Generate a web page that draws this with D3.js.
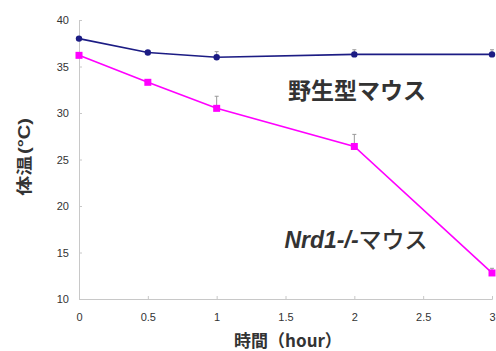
<!DOCTYPE html>
<html><head><meta charset="utf-8">
<script src="https://cdn.jsdelivr.net/npm/d3@7"></script>
<style>body{margin:0;background:#fff}svg{display:block}</style>
</head><body>
<svg id="c" width="496" height="351"></svg>
<script>
const hours = [0, 0.5, 1, 2, 3];
const wtValues = [38.0, 36.5, 36.0, 36.3, 36.3];
const wtErrors = [0.2, 0.2, 0.6, 0.5, 0.5];
const koValues = [36.2, 33.3, 30.5, 26.4, 12.8];
const koErrors = [0.2, 0.2, 1.3, 1.3, 0.5];
const xTicks = [0, 0.5, 1, 1.5, 2, 2.5, 3];
const yTicks = [10, 15, 20, 25, 30, 35, 40];

const svg = d3.select("#c");
const x = d3.scaleLinear().domain([0, 3]).range([79, 492]);
const y = d3.scaleLinear().domain([10, 40]).range([299, 20]);
const font = "Liberation Sans, Arial, sans-serif";
const axisCol = "#c8c8c8";

const xAxis = svg.append("g").attr("transform", "translate(0,299)")
  .call(d3.axisBottom(x).tickValues(xTicks).tickSize(-3).tickPadding(14).tickFormat(d3.format("")));
const yAxis = svg.append("g").attr("transform", "translate(79,0)")
  .call(d3.axisLeft(y).tickValues(yTicks).tickSize(-3).tickPadding(10));
[xAxis, yAxis].forEach(a => {
  a.select(".domain").attr("stroke", axisCol);
  a.selectAll(".tick line").attr("stroke", axisCol);
  a.selectAll("text").attr("fill", "#333").style("font-family", font).style("font-size", "11px");
});

function series(vals, errs, color, marker) {
  const g = svg.append("g");
  g.selectAll("line.err").data(hours).enter().append("line")
    .attr("x1", d => x(d)).attr("x2", d => x(d))
    .attr("y1", (d, i) => y(vals[i])).attr("y2", (d, i) => y(vals[i] + errs[i]))
    .attr("stroke", "#999").attr("stroke-width", 1);
  g.selectAll("line.cap").data(hours).enter().append("line")
    .attr("x1", d => x(d) - 2).attr("x2", d => x(d) + 2)
    .attr("y1", (d, i) => y(vals[i] + errs[i])).attr("y2", (d, i) => y(vals[i] + errs[i]))
    .attr("stroke", "#999").attr("stroke-width", 1);
  const line = d3.line().x(d => x(d)).y((d, i) => y(vals[i]));
  g.append("path").datum(hours).attr("d", line).attr("fill", "none")
    .attr("stroke", color).attr("stroke-width", 1.6);
  if (marker === "circle") {
    g.selectAll("circle").data(hours).enter().append("circle")
      .attr("cx", d => x(d)).attr("cy", (d, i) => y(vals[i])).attr("r", 3.2).attr("fill", color);
  } else {
    g.selectAll("rect").data(hours).enter().append("rect")
      .attr("x", d => x(d) - 3.5).attr("y", (d, i) => y(vals[i]) - 3.5)
      .attr("width", 7).attr("height", 7).attr("fill", color);
  }
}
series(wtValues, wtErrors, "#1c1c84", "circle");
series(koValues, koErrors, "#ff00ff", "square");

svg.append("text").attr("x", 357).attr("y", 99).attr("text-anchor", "middle")
  .style("font-family", "Noto Sans CJK JP, sans-serif").style("font-size", "23px").style("font-weight", "bold")
  .attr("fill", "#333").text("野生型マウス");

const t2 = svg.append("text").attr("x", 356).attr("y", 248).attr("text-anchor", "middle")
  .style("font-size", "23px").attr("fill", "#333");
t2.append("tspan").style("font-family", "Liberation Sans, Arial, sans-serif").style("font-weight", "bold")
  .style("font-style", "italic").text("Nrd1-/-");
t2.append("tspan").style("font-family", "Noto Sans CJK JP, sans-serif").style("font-weight", "500").text("マウス");

svg.append("text").attr("x", 288).attr("y", 347).attr("text-anchor", "middle")
  .style("font-family", "Noto Sans CJK JP, sans-serif").style("font-size", "17px").style("font-weight", "bold")
  .attr("fill", "#333").text("時間（hour）");

const yl = svg.append("text").attr("transform", "translate(30,157) rotate(-90) scale(1,0.78)").attr("text-anchor", "middle")
  .style("font-size", "20px").style("font-weight", "bold").attr("fill", "#333");
yl.append("tspan").style("font-family", "Noto Sans CJK JP, sans-serif").text("体温");
yl.append("tspan").style("font-family", "Liberation Sans, Arial, sans-serif").attr("dx", 2).text("(°C)");
</script>
</body></html>
